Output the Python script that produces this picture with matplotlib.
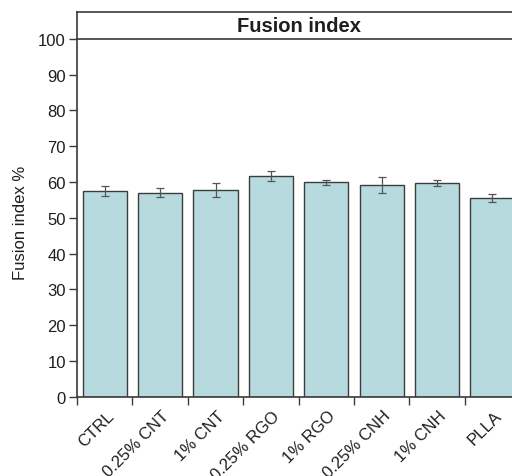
import numpy as np
import matplotlib.pyplot as plt
from matplotlib.transforms import ScaledTranslation

# data
groups = ["CTRL", "0.25% CNT", "1% CNT", "0.25% RGO", "1% RGO",
          "0.25% CNH", "1% CNH", "PLLA"]
fusion = [57.5, 57.0, 57.7, 61.7, 59.9, 59.2, 59.7, 55.5]
fusion_err = [1.3, 1.2, 1.9, 1.3, 0.8, 2.2, 0.9, 1.2]

plt.rcParams["font.family"] = ["Liberation Sans", "DejaVu Sans"]

FILL = "#b6dadd"
EDGE = "#3c3c3c"
SPINE = "#3a3a3a"
TXT = "#1e1e1e"

fig = plt.figure(figsize=(5.12, 4.77), dpi=100)

# main panel (extends a bit past the right edge, like the cropped original)
ax = fig.add_axes([0.1504, 0.1663, 0.8656, 0.750])
x = np.arange(len(groups))
ax.bar(x, fusion, width=0.8, color=FILL, edgecolor=EDGE, linewidth=1.0, zorder=2)
ax.errorbar(x, fusion, yerr=fusion_err, fmt="none", ecolor="#555555",
            elinewidth=0.9, capsize=3, capthick=0.9, zorder=3)

ax.set_xlim(-0.5, len(groups) - 0.5)
ax.set_ylim(0, 100)
ax.set_yticks(np.arange(0, 101, 10))
ax.tick_params(axis="y", direction="out", length=6, width=1.0, color=SPINE,
               labelsize=12, labelcolor=TXT, pad=2)

# ticks sit in the gaps, labels under the bars
ax.set_xticks(np.arange(len(groups)) - 0.5)
ax.set_xticklabels([])
ax.set_xticks(x, minor=True)
ax.set_xticklabels(groups, minor=True, rotation=45, ha="right", fontsize=12,
                   color=TXT)
ax.tick_params(axis="x", which="major", direction="out", length=6, width=1.0,
               color=SPINE)
ax.tick_params(axis="x", which="minor", length=0, pad=8)
shift = ScaledTranslation(0.12, 0, fig.dpi_scale_trans)
for lab in ax.get_xticklabels(minor=True):
    lab.set_transform(lab.get_transform() + shift)

for side in ["top", "right"]:
    ax.spines[side].set_visible(False)
for side in ["left", "bottom"]:
    ax.spines[side].set_color(SPINE)
    ax.spines[side].set_linewidth(1.2)

ax.set_ylabel("Fusion index %", fontsize=12, color=TXT)
ax.yaxis.set_label_coords(-0.111, 0.49)

# title strip
strip = fig.add_axes([0.1504, 0.9161, 0.8656, 0.0566])
strip.set_xticks([])
strip.set_yticks([])
for side in ["top", "left", "bottom", "right"]:
    strip.spines[side].set_color(SPINE)
    strip.spines[side].set_linewidth(1.2)
strip.text(0.5, 0.5, "Fusion index", ha="center", va="center",
           fontsize=14.5, fontweight="bold", color=TXT, transform=strip.transAxes)

fig.savefig("out.png", dpi=100)
